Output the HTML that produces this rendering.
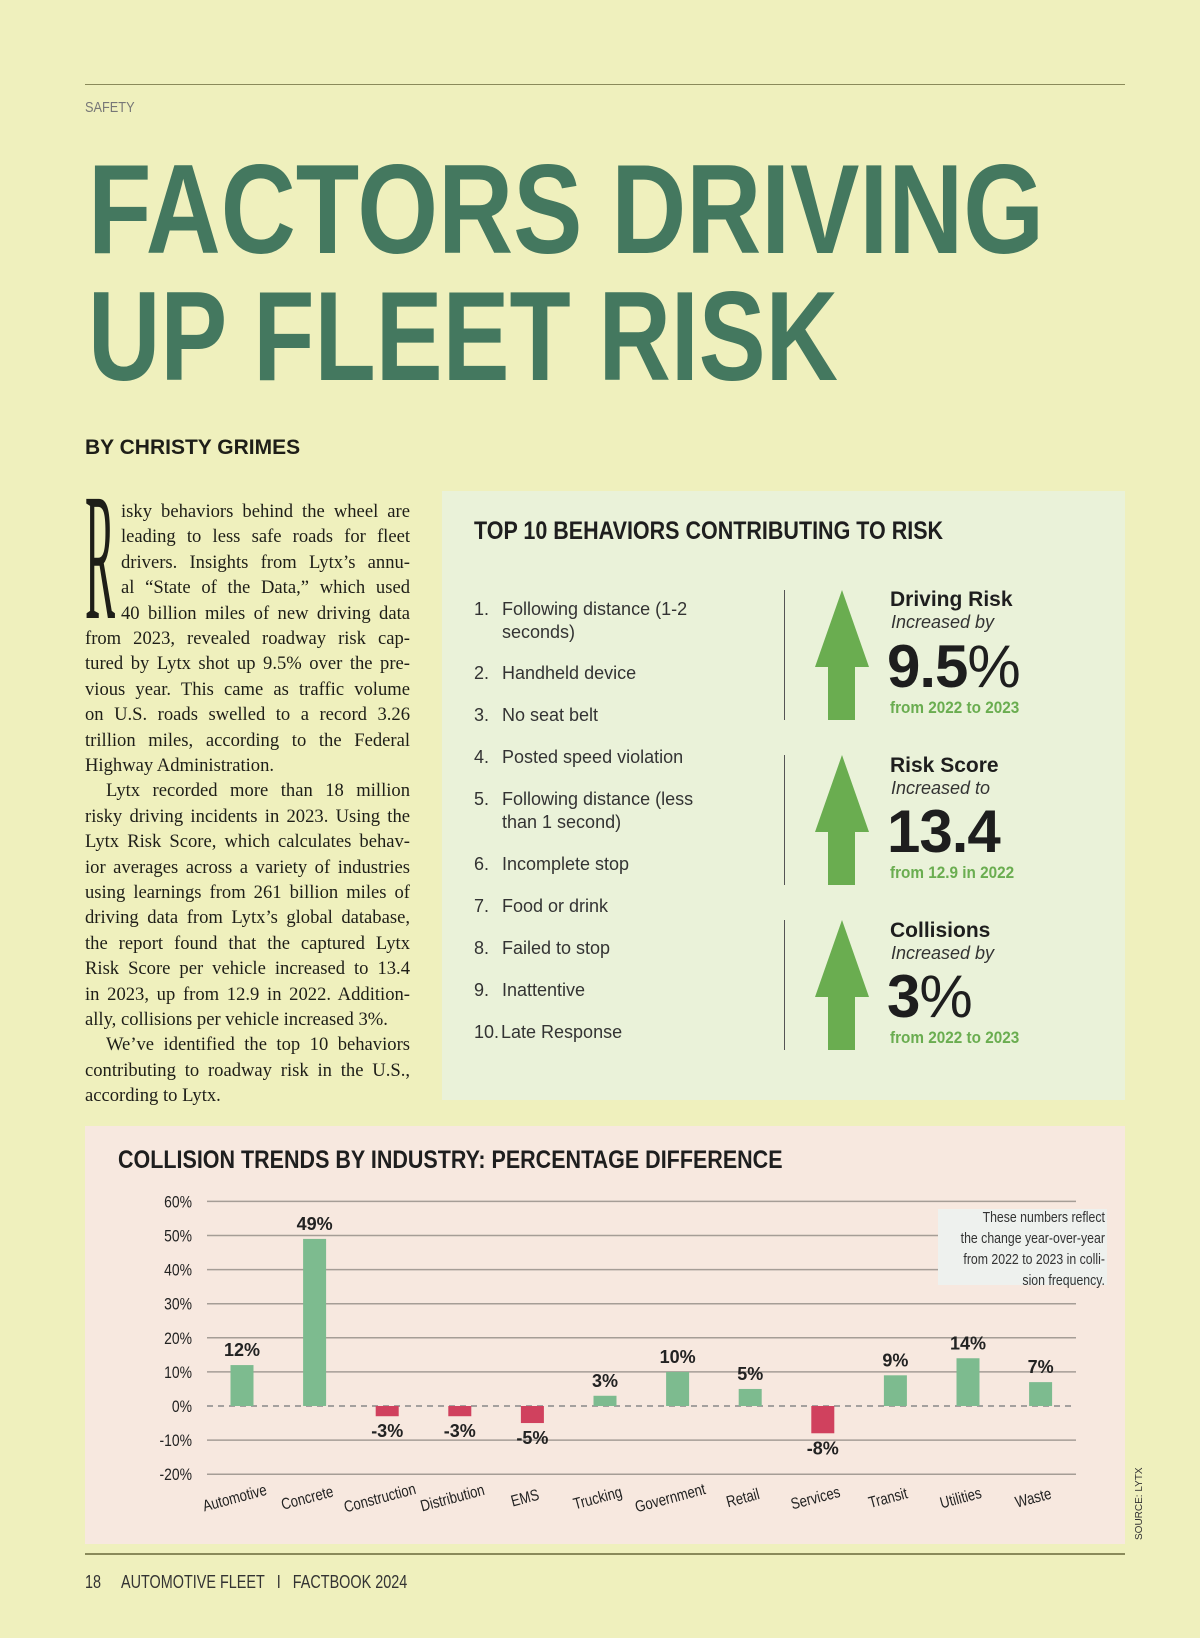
<!DOCTYPE html>
<html><head><meta charset="utf-8"><style>
*{margin:0;padding:0;box-sizing:border-box}
body{width:1200px;height:1638px;background:#eff0bd;position:relative;overflow:hidden;font-family:"Liberation Sans",sans-serif}
.abs{position:absolute}
.body-line{position:absolute;font-family:"Liberation Serif",serif;font-size:18.6px;color:#1e1e18;text-align:justify;text-align-last:justify;white-space:nowrap;height:25px;line-height:25px}
.body-line.l{text-align-last:left}
.li{position:absolute;left:474px;font-size:18px;color:#333;line-height:23px}
.li span{position:absolute;left:28px;white-space:nowrap}
.stat-title{position:absolute;left:890px;font-size:21px;font-weight:bold;color:#1e1e1e}
.stat-sub{position:absolute;left:891px;font-size:18px;font-style:italic;color:#333}
.stat-big{position:absolute;left:887px;font-size:60px;font-weight:bold;color:#1e1e1e;letter-spacing:-1px}
.stat-big i{font-style:normal;font-weight:normal}
.stat-from{position:absolute;left:890px;font-size:17px;font-weight:bold;color:#6aad50;transform:scaleX(.9);transform-origin:left;white-space:nowrap}
.vline{position:absolute;left:784px;width:1px;background:#555}
</style></head><body>
<div class="abs" style="left:85px;top:84px;width:1040px;height:1px;background:#8a8a5a"></div>
<div class="abs" style="left:85px;top:99px;font-size:15px;color:#777;transform:scaleX(.85);transform-origin:left">SAFETY</div>
<svg class="abs" style="left:0;top:0" width="1200" height="400">
<text x="88" y="253" font-family="Liberation Sans" font-weight="bold" font-size="127" fill="#44785f" textLength="956" lengthAdjust="spacingAndGlyphs">FACTORS DRIVING</text>
<text x="88" y="380" font-family="Liberation Sans" font-weight="bold" font-size="127" fill="#44785f" textLength="750" lengthAdjust="spacingAndGlyphs">UP FLEET RISK</text>
</svg>
<div class="abs" style="left:85px;top:436px;font-size:21px;font-weight:bold;color:#1e1e18">BY CHRISTY GRIMES</div>
<svg class="abs" style="left:0;top:0" width="200" height="650"><text x="85" y="618" font-family="Liberation Serif" font-size="182" fill="#1e1e18" textLength="30" lengthAdjust="spacingAndGlyphs">R</text></svg>
<div id="body"></div>

<div class="abs" style="left:442px;top:491px;width:683px;height:609px;background:#eaf2d9"></div>
<div class="abs" style="left:474px;top:517px;font-size:25px;font-weight:bold;color:#1e1e1e;transform:scaleX(.86);transform-origin:left;white-space:nowrap">TOP 10 BEHAVIORS CONTRIBUTING TO RISK</div>
<div>
<div class="li" style="top:598px">1.<span>Following distance (1-2<br>seconds)</span></div>
<div class="li" style="top:662px">2.<span>Handheld device</span></div>
<div class="li" style="top:704px">3.<span>No seat belt</span></div>
<div class="li" style="top:746px">4.<span>Posted speed violation</span></div>
<div class="li" style="top:788px">5.<span>Following distance (less<br>than 1 second)</span></div>
<div class="li" style="top:853px">6.<span>Incomplete stop</span></div>
<div class="li" style="top:895px">7.<span>Food or drink</span></div>
<div class="li" style="top:937px">8.<span>Failed to stop</span></div>
<div class="li" style="top:979px">9.<span>Inattentive</span></div>
<div class="li" style="top:1021px">10.<span style="left:27px">Late Response</span></div>
</div>
<div class="vline" style="top:590px;height:130px"></div>
<div class="vline" style="top:755px;height:130px"></div>
<div class="vline" style="top:920px;height:130px"></div>
<svg class="abs" style="left:0;top:0" width="1200" height="1100">
<polygon points="842,590 869,667 855,667 855,720 828,720 828,667 815,667" fill="#6aad50"/>
<polygon points="842,755 869,832 855,832 855,885 828,885 828,832 815,832" fill="#6aad50"/>
<polygon points="842,920 869,997 855,997 855,1050 828,1050 828,997 815,997" fill="#6aad50"/>
</svg>
<div>
<div class="stat-title" style="top:588px">Driving Risk</div>
<div class="stat-sub" style="top:612px">Increased by</div>
<div class="stat-big" style="top:632px">9.5<i>%</i></div>
<div class="stat-from" style="top:698px">from 2022 to 2023</div>
</div>
<div>
<div class="stat-title" style="top:754px">Risk Score</div>
<div class="stat-sub" style="top:778px">Increased to</div>
<div class="stat-big" style="top:797px">13.4</div>
<div class="stat-from" style="top:863px">from 12.9 in 2022</div>
</div>
<div>
<div class="stat-title" style="top:919px">Collisions</div>
<div class="stat-sub" style="top:943px">Increased by</div>
<div class="stat-big" style="top:962px">3<i>%</i></div>
<div class="stat-from" style="top:1028px">from 2022 to 2023</div>
</div>

<div class="abs" style="left:85px;top:1126px;width:1040px;height:418px;background:#f7e8df"></div>
<div class="abs" style="left:118px;top:1146px;font-size:25px;font-weight:bold;color:#1e1e1e;transform:scaleX(.86);transform-origin:left;white-space:nowrap">COLLISION TRENDS BY INDUSTRY: PERCENTAGE DIFFERENCE</div>
<svg class="abs" id="chart" style="left:0;top:0" width="1200" height="1638"></svg>
<div class="abs" style="left:938px;top:1209px;width:169px;height:76px;background:#eef1ee"></div>
<div class="abs" style="right:95px;top:1207px;font-size:15px;line-height:21px;color:#333;text-align:right;white-space:nowrap;transform:scaleX(.82);transform-origin:right">These numbers reflect<br>the change year-over-year<br>from 2022 to 2023 in colli-<br>sion frequency.</div>
<div class="abs" style="left:1134px;top:1540px;font-size:10px;color:#333;transform:rotate(-90deg);transform-origin:left top;white-space:nowrap">SOURCE: LYTX</div>
<div class="abs" style="left:85px;top:1553px;width:1040px;height:2px;background:#8a8a5a"></div>
<div class="abs" style="left:85px;top:1572px;font-size:18px;color:#333;white-space:nowrap;transform:scaleX(.8);transform-origin:left">18&nbsp;&nbsp;&nbsp;&nbsp;&nbsp;AUTOMOTIVE FLEET&nbsp;&nbsp;&nbsp;I&nbsp;&nbsp;&nbsp;FACTBOOK 2024</div>

<script>
const bodyLines=[
["isky behaviors behind the wheel are",1,0],["leading to less safe roads for fleet",1,0],["drivers. Insights from Lytx’s annu-",1,0],["al “State of the Data,” which used",1,0],["40 billion miles of new driving data",1,0],
["from 2023, revealed roadway risk cap-",0,0],["tured by Lytx shot up 9.5% over the pre-",0,0],["vious year. This came as traffic volume",0,0],["on U.S. roads swelled to a record 3.26",0,0],["trillion miles, according to the Federal",0,0],["Highway Administration.",0,1],
["Lytx recorded more than 18 million",2,0],["risky driving incidents in 2023. Using the",0,0],["Lytx Risk Score, which calculates behav-",0,0],["ior averages across a variety of industries",0,0],["using learnings from 261 billion miles of",0,0],["driving data from Lytx’s global database,",0,0],["the report found that the captured Lytx",0,0],["Risk Score per vehicle increased to 13.4",0,0],["in 2023, up from 12.9 in 2022. Addition-",0,0],["ally, collisions per vehicle increased 3%.",0,1],
["We’ve identified the top 10 behaviors",2,0],["contributing to roadway risk in the U.S.,",0,0],["according to Lytx.",0,1]];
const bd=document.getElementById('body');
bodyLines.forEach((l,i)=>{const d=document.createElement('div');


d.className='body-line'+(l[2]?' l':'');const x=l[1]==1?121:(l[1]==2?106:85);
d.style.left=x+'px';d.style.width=(410-x)+'px';d.style.top=(499+i*25.4)+'px';d.textContent=l[0];bd.appendChild(d);});

const categories=["Automotive","Concrete","Construction","Distribution","EMS","Trucking","Government","Retail","Services","Transit","Utilities","Waste"];
const values=[12,49,-3,-3,-5,3,10,5,-8,9,14,7];
const yTicks=[60,50,40,30,20,10,0,-10,-20];
const NS='http://www.w3.org/2000/svg',svg=document.getElementById('chart');
const y=v=>1406-v*3.41, x=i=>242+i*72.6;
function mk(t,a){const e=document.createElementNS(NS,t);for(const k in a)e.setAttribute(k,a[k]);svg.appendChild(e);return e;}
yTicks.forEach(t=>{
 if(t!==0){const g=mk('line',{x1:207,x2:1076,y1:y(t),y2:y(t),stroke:'#a59d96','stroke-width':1.5});
 
 }
 const tx=mk('text',{x:192,y:y(t)+6,'text-anchor':'end','font-size':17,fill:'#222','font-family':'Liberation Sans',transform:`translate(192 0) scale(.82 1) translate(-192 0)`});
 
 
 tx.textContent=t+'%';});
const z=mk('line',{x1:207,x2:1076,y1:y(0),y2:y(0),stroke:'#888','stroke-width':1.5,'stroke-dasharray':'6 5'});


categories.forEach((c,i)=>{const v=values[i],cx=x(i);
 const r=mk('rect',{x:cx-11.5,width:23,y:Math.min(y(v),y(0)),height:Math.abs(y(v)-y(0)),fill:v>=0?'#7dbb8f':'#d0415e'});
 
 
 const ly=v>=0?y(v)-9:y(v)+21;
 const lb=mk('text',{x:cx,y:ly,'text-anchor':'middle','font-size':18,'font-weight':'bold',fill:'#222','font-family':'Liberation Sans'});
 
 
 lb.textContent=v+'%';
 const xl=mk('text',{x:0,y:0,'text-anchor':'middle','font-size':16,fill:'#222','font-family':'Liberation Sans',transform:`translate(${cx-6} 1503) rotate(-15) scale(.82 1)`});
 
 
 xl.textContent=c;});
</script>
</body></html>
